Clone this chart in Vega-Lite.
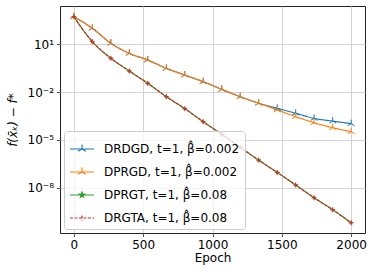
{
  "$schema": "https://vega.github.io/schema/vega-lite/v6.json",
  "width": 305,
  "height": 227,
  "autosize": {"type": "none"},
  "padding": {"left": 60, "top": 6, "right": 9, "bottom": 41},
  "background": "white",
  "config": {
    "font": "DejaVu Sans",
    "view": {"stroke": "#222222", "strokeWidth": 1},
    "axis": {
      "domain": false,
      "grid": true,
      "gridColor": "#d3d3d3",
      "gridWidth": 1,
      "tickColor": "#222222",
      "tickSize": 3.5,
      "tickWidth": 0.8,
      "labelFont": "DejaVu Sans",
      "labelFontSize": 12,
      "labelColor": "#000000",
      "labelPadding": 3,
      "titleFont": "DejaVu Sans",
      "titleFontSize": 12,
      "titleFontWeight": "normal",
      "titleColor": "#000000"
    },
    "legend": {
      "labelFont": "DejaVu Sans",
      "labelFontSize": 12,
      "labelColor": "#000000"
    }
  },
  "data": {
    "values": [
      {"s": "DRDGD, t=1, \u03b2\u0302=0.002", "epoch": 0, "v": 537},
      {"s": "DRDGD, t=1, \u03b2\u0302=0.002", "epoch": 133, "v": 100},
      {"s": "DRDGD, t=1, \u03b2\u0302=0.002", "epoch": 267, "v": 11.48},
      {"s": "DRDGD, t=1, \u03b2\u0302=0.002", "epoch": 400, "v": 2.69},
      {"s": "DRDGD, t=1, \u03b2\u0302=0.002", "epoch": 533, "v": 1.023},
      {"s": "DRDGD, t=1, \u03b2\u0302=0.002", "epoch": 667, "v": 0.309},
      {"s": "DRDGD, t=1, \u03b2\u0302=0.002", "epoch": 800, "v": 0.1175},
      {"s": "DRDGD, t=1, \u03b2\u0302=0.002", "epoch": 933, "v": 0.0447},
      {"s": "DRDGD, t=1, \u03b2\u0302=0.002", "epoch": 1067, "v": 0.01479},
      {"s": "DRDGD, t=1, \u03b2\u0302=0.002", "epoch": 1200, "v": 0.00513},
      {"s": "DRDGD, t=1, \u03b2\u0302=0.002", "epoch": 1333, "v": 0.002},
      {"s": "DRDGD, t=1, \u03b2\u0302=0.002", "epoch": 1467, "v": 0.000955},
      {"s": "DRDGD, t=1, \u03b2\u0302=0.002", "epoch": 1600, "v": 0.000468},
      {"s": "DRDGD, t=1, \u03b2\u0302=0.002", "epoch": 1733, "v": 0.000224},
      {"s": "DRDGD, t=1, \u03b2\u0302=0.002", "epoch": 1867, "v": 0.000151},
      {"s": "DRDGD, t=1, \u03b2\u0302=0.002", "epoch": 2000, "v": 0.0001047},
      {"s": "DPRGD, t=1, \u03b2\u0302=0.002", "epoch": 0, "v": 537},
      {"s": "DPRGD, t=1, \u03b2\u0302=0.002", "epoch": 133, "v": 100},
      {"s": "DPRGD, t=1, \u03b2\u0302=0.002", "epoch": 267, "v": 11.48},
      {"s": "DPRGD, t=1, \u03b2\u0302=0.002", "epoch": 400, "v": 2.69},
      {"s": "DPRGD, t=1, \u03b2\u0302=0.002", "epoch": 533, "v": 1.023},
      {"s": "DPRGD, t=1, \u03b2\u0302=0.002", "epoch": 667, "v": 0.309},
      {"s": "DPRGD, t=1, \u03b2\u0302=0.002", "epoch": 800, "v": 0.1175},
      {"s": "DPRGD, t=1, \u03b2\u0302=0.002", "epoch": 933, "v": 0.0447},
      {"s": "DPRGD, t=1, \u03b2\u0302=0.002", "epoch": 1067, "v": 0.01479},
      {"s": "DPRGD, t=1, \u03b2\u0302=0.002", "epoch": 1200, "v": 0.00513},
      {"s": "DPRGD, t=1, \u03b2\u0302=0.002", "epoch": 1333, "v": 0.002},
      {"s": "DPRGD, t=1, \u03b2\u0302=0.002", "epoch": 1467, "v": 0.000759},
      {"s": "DPRGD, t=1, \u03b2\u0302=0.002", "epoch": 1600, "v": 0.000288},
      {"s": "DPRGD, t=1, \u03b2\u0302=0.002", "epoch": 1733, "v": 0.00012},
      {"s": "DPRGD, t=1, \u03b2\u0302=0.002", "epoch": 1867, "v": 0.0000589},
      {"s": "DPRGD, t=1, \u03b2\u0302=0.002", "epoch": 2000, "v": 0.0000324},
      {"s": "DPRGT, t=1, \u03b2\u0302=0.08", "epoch": 0, "v": 537},
      {"s": "DPRGT, t=1, \u03b2\u0302=0.08", "epoch": 133, "v": 14.45},
      {"s": "DPRGT, t=1, \u03b2\u0302=0.08", "epoch": 267, "v": 1.318},
      {"s": "DPRGT, t=1, \u03b2\u0302=0.08", "epoch": 400, "v": 0.209},
      {"s": "DPRGT, t=1, \u03b2\u0302=0.08", "epoch": 533, "v": 0.0355},
      {"s": "DPRGT, t=1, \u03b2\u0302=0.08", "epoch": 667, "v": 0.00513},
      {"s": "DPRGT, t=1, \u03b2\u0302=0.08", "epoch": 800, "v": 0.000912},
      {"s": "DPRGT, t=1, \u03b2\u0302=0.08", "epoch": 933, "v": 0.000138},
      {"s": "DPRGT, t=1, \u03b2\u0302=0.08", "epoch": 1067, "v": 0.0000224},
      {"s": "DPRGT, t=1, \u03b2\u0302=0.08", "epoch": 1200, "v": 0.00000347},
      {"s": "DPRGT, t=1, \u03b2\u0302=0.08", "epoch": 1333, "v": 5.37e-7},
      {"s": "DPRGT, t=1, \u03b2\u0302=0.08", "epoch": 1467, "v": 9.12e-8},
      {"s": "DPRGT, t=1, \u03b2\u0302=0.08", "epoch": 1600, "v": 1.48e-8},
      {"s": "DPRGT, t=1, \u03b2\u0302=0.08", "epoch": 1733, "v": 2.34e-9},
      {"s": "DPRGT, t=1, \u03b2\u0302=0.08", "epoch": 1867, "v": 4.17e-10},
      {"s": "DPRGT, t=1, \u03b2\u0302=0.08", "epoch": 2000, "v": 6.31e-11},
      {"s": "DRGTA, t=1, \u03b2\u0302=0.08", "epoch": 0, "v": 537},
      {"s": "DRGTA, t=1, \u03b2\u0302=0.08", "epoch": 133, "v": 14.45},
      {"s": "DRGTA, t=1, \u03b2\u0302=0.08", "epoch": 267, "v": 1.318},
      {"s": "DRGTA, t=1, \u03b2\u0302=0.08", "epoch": 400, "v": 0.209},
      {"s": "DRGTA, t=1, \u03b2\u0302=0.08", "epoch": 533, "v": 0.0355},
      {"s": "DRGTA, t=1, \u03b2\u0302=0.08", "epoch": 667, "v": 0.00513},
      {"s": "DRGTA, t=1, \u03b2\u0302=0.08", "epoch": 800, "v": 0.000912},
      {"s": "DRGTA, t=1, \u03b2\u0302=0.08", "epoch": 933, "v": 0.000138},
      {"s": "DRGTA, t=1, \u03b2\u0302=0.08", "epoch": 1067, "v": 0.0000224},
      {"s": "DRGTA, t=1, \u03b2\u0302=0.08", "epoch": 1200, "v": 0.00000347},
      {"s": "DRGTA, t=1, \u03b2\u0302=0.08", "epoch": 1333, "v": 5.37e-7},
      {"s": "DRGTA, t=1, \u03b2\u0302=0.08", "epoch": 1467, "v": 9.12e-8},
      {"s": "DRGTA, t=1, \u03b2\u0302=0.08", "epoch": 1600, "v": 1.48e-8},
      {"s": "DRGTA, t=1, \u03b2\u0302=0.08", "epoch": 1733, "v": 2.34e-9},
      {"s": "DRGTA, t=1, \u03b2\u0302=0.08", "epoch": 1867, "v": 4.17e-10},
      {"s": "DRGTA, t=1, \u03b2\u0302=0.08", "epoch": 2000, "v": 6.31e-11}
    ]
  },
  "encoding": {
    "x": {
      "field": "epoch", "type": "quantitative",
      "scale": {"domain": [-100, 2100], "nice": false, "zero": false},
      "axis": {"values": [0, 500, 1000, 1500, 2000], "format": "d", "title": "Epoch", "titlePadding": 2}
    },
    "y": {
      "field": "v", "type": "quantitative",
      "scale": {"type": "log", "domain": [1.45e-11, 2500], "nice": false},
      "axis": {
        "values": [1e-8, 1e-5, 0.01, 10],
        "labelExpr": "datum.value >= 1 ? '10\u00b9' : datum.value > 0.001 ? '10\u207b\u00b2' : datum.value > 0.000001 ? '10\u207b\u2075' : '10\u207b\u2078'",
        "title": "f(x\u0304\u2096) \u2212 f*",
        "titleFontStyle": "italic",
        "titlePadding": 8
      }
    },
    "color": {
      "field": "s", "type": "nominal",
      "scale": {
        "domain": ["DRDGD, t=1, \u03b2\u0302=0.002", "DPRGD, t=1, \u03b2\u0302=0.002", "DPRGT, t=1, \u03b2\u0302=0.08", "DRGTA, t=1, \u03b2\u0302=0.08"],
        "range": ["#1f77b4", "#ff7f0e", "#2ca02c", "#d62728"]
      },
      "legend": {
        "title": null,
        "orient": "bottom-left",
        "offset": 4,
        "padding": 5,
        "fillColor": "rgba(255,255,255,0.8)",
        "strokeColor": "#cccccc",
        "cornerRadius": 3,
        "symbolSize": 576,
        "symbolStrokeWidth": 1.2,
        "labelOffset": 9,
        "rowPadding": 4,
        "encoding": {
          "symbols": {
            "shape": {"value": {"expr": "slice(datum.value,0,5) === 'DPRGT' ? 'M-1,0L1,0M0,-0.22L0.053,-0.073L0.209,-0.068L0.086,0.028L0.129,0.178L0,0.09L-0.129,0.178L-0.086,0.028L-0.209,-0.068L-0.053,-0.073Z' : slice(datum.value,0,5) === 'DRGTA' ? 'M-1,0L1,0M-0.2,0L0.2,0M0,-0.2L0,0.2' : 'M-1,0L1,0M0,0L0,-0.37M0,0L-0.32,0.185M0,0L0.32,0.185'"}},
            "stroke": {"value": {"expr": "scale('color', datum.value)"}},
            "fill": {"value": {"expr": "slice(datum.value,0,5) === 'DPRGT' ? '#2ca02c' : 'transparent'"}},
            "strokeDash": {"value": {"expr": "slice(datum.value,0,5) === 'DRGTA' ? [3, 1.5] : [1, 0]"}},
            "strokeWidth": {"value": 1.2},
            "size": {"value": 576},
            "opacity": {"value": 1}
          }
        }
      }
    }
  },
  "layer": [
    {
      "mark": {"type": "line", "strokeWidth": 1.2, "interpolate": "monotone"},
      "encoding": {
        "strokeDash": {
          "field": "s", "type": "nominal",
          "scale": {
            "domain": ["DRDGD, t=1, \u03b2\u0302=0.002", "DPRGD, t=1, \u03b2\u0302=0.002", "DPRGT, t=1, \u03b2\u0302=0.08", "DRGTA, t=1, \u03b2\u0302=0.08"],
            "range": [[1, 0], [1, 0], [1, 0], [3, 1.5]]
          },
          "legend": null
        }
      }
    },
    {
      "transform": [{"filter": "slice(datum.s,0,5) === 'DRDGD' || slice(datum.s,0,5) === 'DPRGD'"}],
      "mark": {"type": "point", "filled": false, "strokeWidth": 1, "opacity": 1, "size": 64, "shape": "M0,0L0,-1M0,0L-0.866,0.5M0,0L0.866,0.5"}
    },
    {
      "transform": [{"filter": "slice(datum.s,0,5) === 'DPRGT'"}],
      "mark": {"type": "point", "filled": true, "opacity": 1, "size": 25, "shape": "M0,-1L0.235,-0.324L0.951,-0.309L0.38,0.124L0.588,0.809L0,0.4L-0.588,0.809L-0.38,0.124L-0.951,-0.309L-0.235,-0.324Z"}
    },
    {
      "transform": [{"filter": "slice(datum.s,0,5) === 'DRGTA'"}],
      "mark": {"type": "point", "filled": false, "strokeWidth": 1, "opacity": 1, "size": 25, "shape": "M-1,0L1,0M0,-1L0,1"}
    }
  ]
}
